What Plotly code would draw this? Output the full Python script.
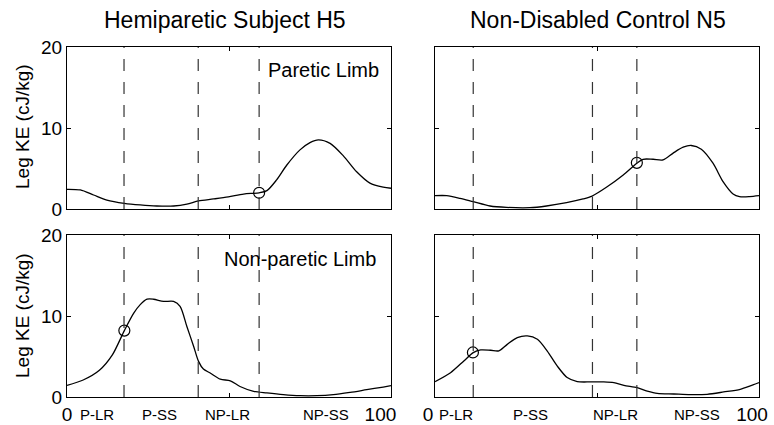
import plotly.graph_objects as go

# ---------------- data ----------------
# Hemiparetic subject H5 - paretic limb (top-left)
h5p_x = [0, 4.1, 8.2, 12.3, 17.7, 22.6, 27.7, 32.9, 37, 40.6, 45.2, 49.8, 54.5, 59.3, 61.7,
         64.7, 67.8, 71.9, 75, 77.6, 81.2, 85.3, 89.4, 93.5, 97.6, 100]
h5p_y = [2.43, 2.35, 1.73, 1.1, 0.7, 0.5, 0.37, 0.37, 0.6, 1.0, 1.24, 1.5, 1.85, 2.0, 2.27,
         3.6, 5.4, 7.3, 8.2, 8.54, 8.1, 6.56, 4.6, 3.2, 2.7, 2.56]

# Non-disabled control N5 - top-right
n5a_x = [0, 3.6, 7.7, 11.8, 17, 22.1, 29.3, 34.4, 40.6, 45.7, 48.5, 52.9, 58.1, 62.3, 64.2,
         67.3, 70.4, 73.5, 76.6, 79.1, 82.2, 85.8, 88.9, 92, 94, 97.1, 100]
n5a_y = [1.65, 1.65, 1.32, 0.9, 0.37, 0.2, 0.16, 0.37, 0.78, 1.24, 1.6, 2.68, 4.2, 5.65, 6.14,
         6.14, 6.06, 6.9, 7.63, 7.84, 7.38, 5.65, 3.38, 1.86, 1.53, 1.53, 1.65]

# Hemiparetic subject H5 - non-paretic limb (bottom-left)
h5n_x = [0, 5, 10, 14, 17.7, 20.6, 22.6, 24.7, 26.7, 29.8, 32.9, 34.9, 37, 39.1, 40.6,
         42.1, 44.2, 47.3, 50.4, 53.4, 57.6, 61.7, 66.8, 71.9, 77.1, 82.2, 87.4, 92.5, 97.6, 100]
h5n_y = [1.44, 2.1, 3.3, 5.2, 8.2, 10.35, 11.4, 12.07, 12.07, 11.8, 11.8, 11.2, 8.7, 6.24, 4.4,
         3.45, 2.96, 2.2, 2.0, 1.3, 0.7, 0.5, 0.29, 0.16, 0.16, 0.29, 0.57, 0.9, 1.23, 1.4]

# Non-disabled control N5 - bottom-right
n5b_x = [0, 4.8, 8.9, 11.8, 14.1, 17.2, 19.7, 22.3, 25.4, 28.5, 31.6, 34.6, 37.7, 40.8, 43.9,
         48, 52.1, 55.2, 58.3, 62.4, 65.5, 68.6, 73.7, 78.8, 84, 89.1, 94.2, 97.3, 100]
n5b_y = [1.9, 3.0, 4.45, 5.48, 5.81, 5.77, 5.7, 6.5, 7.34, 7.55, 7.13, 5.7, 3.84, 2.4, 1.9,
         1.86, 1.86, 1.77, 1.44, 1.15, 0.74, 0.45, 0.37, 0.29, 0.33, 0.62, 0.95, 1.36, 1.77]

# phase boundaries (% gait cycle)
h5_phases = [17.6, 40.5, 59.3]
n5_phases = [11.8, 48.6, 62.3]

# circle markers
circ_x = [59.3, 62.3, 17.7, 11.7]
circ_y = [2.0, 5.7, 8.2, 5.5]

phase_names = ["P-LR", "P-SS", "NP-LR", "NP-SS"]
h5_label_x = [9.4, 28.7, 49.6, 80.0]
n5_label_x = [6.6, 29.5, 55.7, 80.9]

titles = ["Hemiparetic Subject H5", "Non-Disabled Control N5"]
ylabel = "Leg KE (cJ/kg)"
y_ticks = [0, 10, 20]
x_ticks = [0, 50, 100]
NB = "\u00a0"
x_ticktext_left = ["0", "", "100" + NB * 4]
x_ticktext_right = ["0", "", "100"]

# ---------------- figure ----------------
FONT = "Arial, Liberation Sans, Helvetica, sans-serif"
W, H = 774, 425

fig = go.Figure()

panels = [
    ("x", "y", h5p_x, h5p_y, h5_phases, 0),
    ("x2", "y2", n5a_x, n5a_y, n5_phases, 1),
    ("x3", "y3", h5n_x, h5n_y, h5_phases, 2),
    ("x4", "y4", n5b_x, n5b_y, n5_phases, 3),
]

for xa, ya, xs, ys, ph, i in panels:
    fig.add_trace(go.Scatter(x=xs, y=ys, xaxis=xa, yaxis=ya, mode="lines",
                             line=dict(color="black", width=1.3, shape="spline", smoothing=0.8),
                             showlegend=False, hoverinfo="skip"))
    fig.add_trace(go.Scatter(x=[circ_x[i]], y=[circ_y[i]], xaxis=xa, yaxis=ya, mode="markers",
                             marker=dict(symbol="circle-open", size=11, color="black",
                                         line=dict(width=1.2, color="black")),
                             showlegend=False, hoverinfo="skip"))
    for p in ph:
        fig.add_shape(type="line", xref=xa, yref=ya + " domain", x0=p, x1=p, y0=0, y1=1,
                      line=dict(color="#333333", width=1.2, dash="12px,11px"))

def px_x(p):
    return p / W

def px_y(p):
    return (H - p) / H

dom_x = [[px_x(67), px_x(391)], [px_x(435), px_x(759)]]
dom_y_top = [px_y(209), px_y(47)]
dom_y_bot = [px_y(397), px_y(235)]

common_x = dict(range=[0, 100], tickvals=x_ticks, ticks="inside",
                ticklen=4, tickcolor="black", showline=True, linecolor="black", linewidth=1,
                mirror="ticks", showgrid=False, zeroline=False, automargin=False,
                ticklabeloverflow="allow",
                tickfont=dict(family=FONT, size=19, color="black"))
common_y = dict(range=[0, 20], tickvals=y_ticks, ticks="inside", ticklen=4, tickcolor="black",
                showline=True, linecolor="black", linewidth=1, mirror="ticks", showgrid=False,
                zeroline=False, automargin=False,
                tickfont=dict(family=FONT, size=19, color="black"))

fig.update_layout(
    width=W, height=H, margin=dict(l=0, r=0, t=0, b=0),
    paper_bgcolor="white", plot_bgcolor="white",
    font=dict(family=FONT, color="black"),
    xaxis=dict(domain=dom_x[0], anchor="y", showticklabels=False, ticktext=x_ticktext_left, **common_x),
    xaxis2=dict(domain=dom_x[1], anchor="y2", showticklabels=False, ticktext=x_ticktext_right, **common_x),
    xaxis3=dict(domain=dom_x[0], anchor="y3", ticktext=x_ticktext_left, **common_x),
    xaxis4=dict(domain=dom_x[1], anchor="y4", ticktext=x_ticktext_right, ticklabelshift=-7, **common_x),
    yaxis=dict(domain=dom_y_top, anchor="x", **common_y),
    yaxis2=dict(domain=dom_y_top, anchor="x2", showticklabels=False, **common_y),
    yaxis3=dict(domain=dom_y_bot, anchor="x3", **common_y),
    yaxis4=dict(domain=dom_y_bot, anchor="x4", showticklabels=False, **common_y),
)

ann = []
# titles
ann.append(dict(text=titles[0], xref="paper", yref="paper", x=px_x(225), y=px_y(20.5),
                xanchor="center", yanchor="middle", showarrow=False,
                font=dict(family=FONT, size=23, color="black")))
ann.append(dict(text=titles[1], xref="paper", yref="paper", x=px_x(598), y=px_y(20.5),
                xanchor="center", yanchor="middle", showarrow=False,
                font=dict(family=FONT, size=23, color="black")))
# y labels
for yc in [127, 316]:
    ann.append(dict(text=ylabel, xref="paper", yref="paper", x=px_x(22), y=px_y(yc),
                    xanchor="center", yanchor="middle", textangle=-90, showarrow=False,
                    font=dict(family=FONT, size=19, color="black")))
# limb labels
ann.append(dict(text="Paretic Limb", xref="x", yref="y", x=97, y=17.2, xanchor="right",
                yanchor="middle", showarrow=False, font=dict(family=FONT, size=20, color="black")))
ann.append(dict(text="Non-paretic Limb", xref="x3", yref="y3", x=96, y=17.0, xanchor="right",
                yanchor="middle", showarrow=False, font=dict(family=FONT, size=20, color="black")))
# phase labels
for name, lx in zip(phase_names, h5_label_x):
    ann.append(dict(text=name, xref="x3", yref="paper", x=lx, y=px_y(414), xanchor="center",
                    yanchor="middle", showarrow=False, font=dict(family=FONT, size=15, color="black")))
for name, lx in zip(phase_names, n5_label_x):
    ann.append(dict(text=name, xref="x4", yref="paper", x=lx, y=px_y(414), xanchor="center",
                    yanchor="middle", showarrow=False, font=dict(family=FONT, size=15, color="black")))
fig.update_layout(annotations=ann)

fig.write_html("out.html")
